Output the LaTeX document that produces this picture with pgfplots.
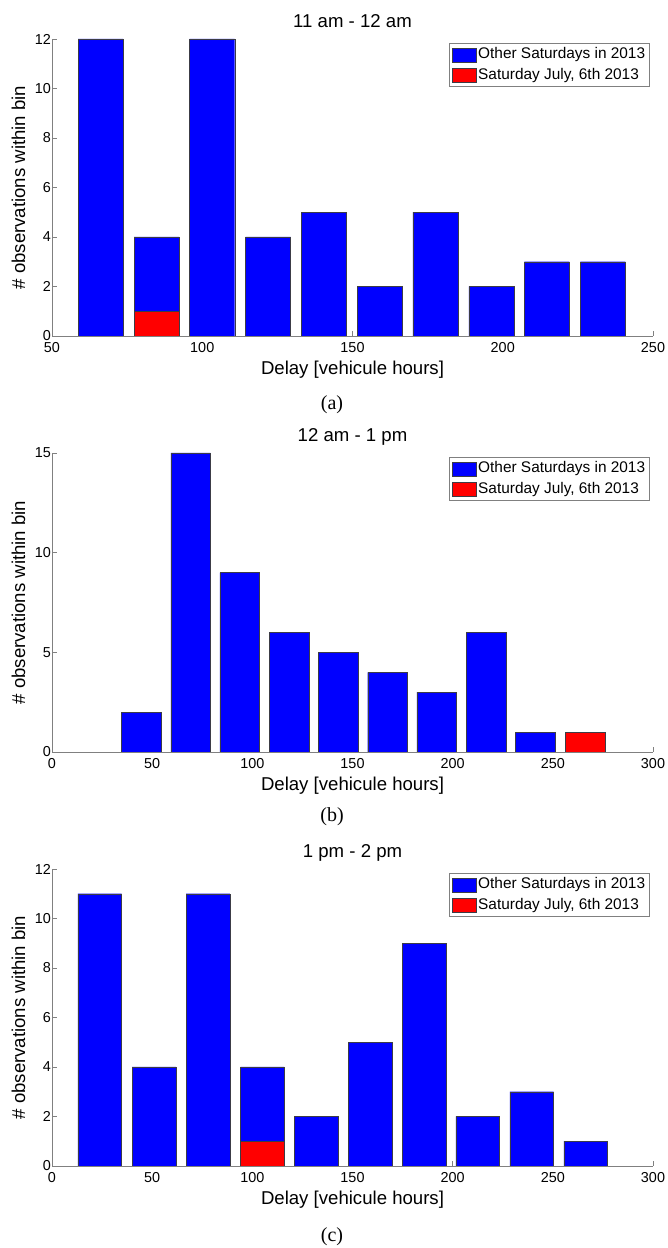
\documentclass[border=0pt]{standalone}
\usepackage{fontspec}
\setmainfont{Liberation Sans}
\newfontfamily\capfont{Liberation Serif}
\usepackage{pgfplots}
\pgfplotsset{compat=1.18}
\definecolor{axisgray}{RGB}{128,128,128}
\definecolor{edgegray}{RGB}{60,60,70}
\pgfplotsset{
  hist/.style={
    scale only axis, width=601pt,
    axis lines=left,
    axis line style={-, draw=axisgray, line width=0.7pt},
    tick style={draw=axisgray, line width=0.7pt},
    tick align=inside,
    major tick length=5pt,
    minor tick num=0,
    ymin=0,
    enlargelimits=false,
    /pgf/number format/assume math mode=true,
    ticklabel style={font=\fontsize{14.4}{16}\selectfont},
    xticklabel style={yshift=-2.5pt},
    yticklabel style={xshift=2.5pt},
    label style={font=\fontsize{18.6}{21}\selectfont},
    xlabel={Delay [vehicule hours]},
    ylabel={\# observations within bin},
    ylabel style={at={(axis description cs:-0.0449,0.5)}, anchor=base, rotate=0},
    title style={font=\fontsize{18.6}{21}\selectfont, anchor=base},
    legend style={at={(1,1)}, anchor=north east, xshift=-3pt, yshift=-4pt,
      draw=axisgray, line width=0.7pt, inner xsep=3pt, inner ysep=2pt,
      nodes={inner xsep=1.5pt, inner ysep=2pt, text height=11.5pt, text depth=3.5pt},
      font=\fontsize{15.4}{18}\selectfont, row sep=1.5pt},
    legend cell align=left,
  },
  bluebar/.style={ybar, bar shift=0pt, fill=blue, draw=edgegray, line width=0.3pt,
    legend image code/.code={\draw[fill=blue, draw=edgegray, line width=0.3pt] (0pt,-7pt) rectangle (24pt,7pt);}},
  redbar/.style={ybar, bar shift=0pt, fill=red, draw=edgegray, line width=0.3pt,
    legend image code/.code={\draw[fill=red, draw=edgegray, line width=0.3pt] (0pt,-7pt) rectangle (24pt,7pt);}},
}
\begin{document}
\begin{tikzpicture}
\useasboundingbox (0,0) rectangle (667pt,1248pt);
% ---------- (a)
\begin{axis}[hist, at={(52pt,912pt)}, anchor=south west, height=297pt,
  xmin=50, xmax=250, ymax=12, xtick={50,100,150,200,250}, ytick={0,2,4,6,8,10,12},
  title={11 am - 12 am},
  title style={at={(axis description cs:0.5,1.0182)}},
  xlabel style={at={(axis description cs:0.5,-0.1296)}, anchor=base}]
\addplot[bluebar, bar width=15] coordinates {(66.2,12) (84.8,4) (103.3,12) (121.9,4) (140.5,5) (159.0,2) (177.6,5) (196.2,2) (214.7,3) (233.3,3)};
\addplot[redbar, bar width=15] coordinates {(84.8,1)};
\legend{Other Saturdays in 2013, {Saturday July, 6th 2013}}
\end{axis}
% ---------- (b)
\begin{axis}[hist, at={(52pt,496pt)}, anchor=south west, height=299pt,
  xmin=0, xmax=300, ymax=15, xtick={0,50,100,150,200,250,300}, ytick={0,5,10,15},
  title={12 am - 1 pm},
  title style={at={(axis description cs:0.5,1.0181)}},
  xlabel style={at={(axis description cs:0.5,-0.1288)}, anchor=base}]
\addplot[bluebar, bar width=19.8] coordinates {(44.6,2) (69.2,15) (93.7,9) (118.3,6) (142.9,5) (167.5,4) (192.0,3) (216.7,6) (241.3,1)};
\addplot[redbar, bar width=19.8] coordinates {(266.0,1)};
\legend{Other Saturdays in 2013, {Saturday July, 6th 2013}}
\end{axis}
% ---------- (c)
\begin{axis}[hist, at={(52pt,82pt)}, anchor=south west, height=297pt,
  xmin=0, xmax=300, ymax=12, xtick={0,50,100,150,200,250,300}, ytick={0,2,4,6,8,10,12},
  title={1 pm - 2 pm},
  title style={at={(axis description cs:0.5,1.0182)}},
  xlabel style={at={(axis description cs:0.5,-0.1296)}, anchor=base}]
\addplot[bluebar, bar width=21.8] coordinates {(23.8,11) (50.9,4) (77.9,11) (105.0,4) (131.8,2) (158.7,5) (185.7,9) (212.5,2) (239.5,3) (266.4,1)};
\addplot[redbar, bar width=21.8] coordinates {(105.0,1)};
\legend{Other Saturdays in 2013, {Saturday July, 6th 2013}}
\end{axis}
\node[font=\capfont\fontsize{20}{23}\selectfont] at (332pt,843pt) {(a)};
\node[font=\capfont\fontsize{20}{23}\selectfont] at (332pt,431pt) {(b)};
\node[font=\capfont\fontsize{20}{23}\selectfont] at (332pt,11pt) {(c)};
\end{tikzpicture}
\end{document}
